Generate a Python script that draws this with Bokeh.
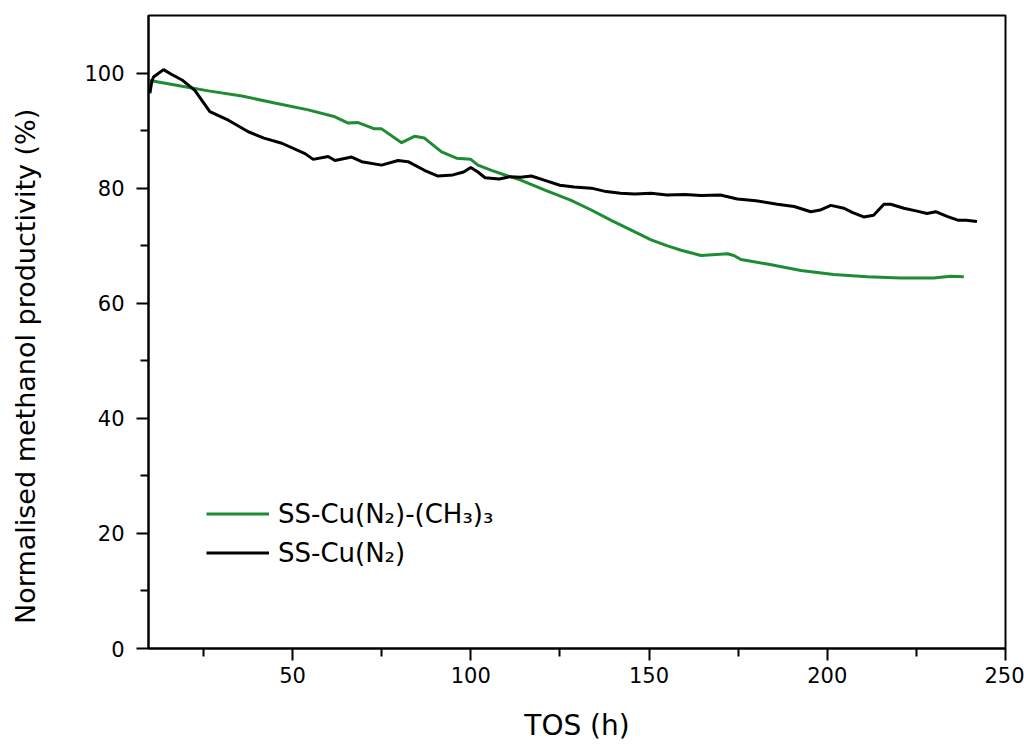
from bokeh.plotting import figure
from bokeh.models import FixedTicker, Legend, LegendItem, Range1d
from bokeh.embed import file_html
from bokeh.resources import INLINE

# SS-Cu(N2)
tos_black = [10, 10.5, 11, 13.8, 16, 19, 22.6, 26.8, 32, 37.6, 42, 47, 53.5, 55.8, 60, 61.9,
             66.6, 69.4, 75, 79.6, 82.4, 87, 90.8, 95, 98, 100, 102, 104, 108, 111, 114, 117,
             121, 125, 129, 133.8, 138, 142, 146, 150.6, 155, 160, 164.6, 170, 174.8, 180,
             186, 190.7, 195.4, 198, 201, 204.7, 207, 210.2, 213, 215.9, 217.8, 221.5, 225.2,
             228, 230.4, 233.6, 236.8, 239, 242]
prod_black = [96.5, 98.5, 99.3, 100.6, 99.8, 98.8, 97.0, 93.3, 91.8, 89.8, 88.7, 87.8, 86.0, 85.0,
              85.5, 84.8, 85.4, 84.6, 84.0, 84.8, 84.6, 83.1, 82.1, 82.3, 82.8, 83.6, 82.8, 81.8,
              81.6, 82.0, 81.9, 82.1, 81.3, 80.5, 80.2, 80.0, 79.4, 79.1, 79.0, 79.1, 78.8, 78.9,
              78.7, 78.8, 78.1, 77.8, 77.2, 76.8, 75.9, 76.2, 77.0, 76.5, 75.8, 75.0, 75.3, 77.2,
              77.2, 76.5, 76.0, 75.6, 75.9, 75.1, 74.4, 74.4, 74.2]

# SS-Cu(N2)-(CH3)3
tos_green = [10, 19, 26.4, 35.8, 45, 54.4, 61.9, 65.6, 68.4, 73, 75, 80.6, 84.2, 87, 91.8, 96,
             100, 102, 105.8, 110, 114, 121, 128, 133.8, 139.4, 145, 150.6, 155, 159, 164.6,
             172, 173.8, 175.8, 183.2, 192.6, 201.8, 211.2, 220.6, 229.9, 234.6, 238.3]
prod_green = [98.7, 97.7, 96.9, 96.0, 94.8, 93.6, 92.4, 91.3, 91.4, 90.3, 90.3, 87.9, 89.0, 88.7,
              86.3, 85.2, 85.0, 84.0, 83.1, 82.2, 81.4, 79.6, 77.9, 76.2, 74.4, 72.7, 71.0, 70.0,
              69.2, 68.3, 68.6, 68.3, 67.6, 66.8, 65.7, 65.0, 64.6, 64.4, 64.4, 64.7, 64.6]

x_major = [50, 100, 150, 200, 250]
x_minor = [25, 75, 125, 175, 225]
y_major = [0, 20, 40, 60, 80, 100]
y_minor = [10, 30, 50, 70, 90]

x_title = "TOS (h)"
y_title = "Normalised methanol productivity (%)"

FONT = "DejaVu Sans"

p = figure(width=1024, height=744, output_backend="svg", toolbar_location=None,
           x_range=Range1d(9.6, 250), y_range=Range1d(0, 110),
           min_border_left=148, min_border_right=19, min_border_top=15, min_border_bottom=96)
p.grid.visible = False
p.outline_line_color = "black"
p.outline_line_width = 2
p.background_fill_color = "white"
p.border_fill_color = "white"

gr = p.line(tos_green, prod_green, line_color="#1E8C32", line_width=3)
bl = p.line(tos_black, prod_black, line_color="black", line_width=3)

for ax in (p.xaxis[0], p.yaxis[0]):
    ax.axis_line_width = 2
    ax.major_tick_line_width = 2
    ax.minor_tick_line_width = 2
    ax.major_tick_in = 0
    ax.minor_tick_in = 0
    ax.major_tick_out = 12
    ax.minor_tick_out = 8
    ax.major_label_text_font = FONT
    ax.major_label_text_font_size = "21px"
    ax.major_label_text_color = "black"
    ax.axis_label_text_font = FONT
    ax.axis_label_text_font_style = "normal"
    ax.axis_label_text_color = "black"

p.xaxis[0].ticker = FixedTicker(ticks=x_major, minor_ticks=x_minor)
p.yaxis[0].ticker = FixedTicker(ticks=y_major, minor_ticks=y_minor)
p.xaxis[0].major_label_standoff = 6
p.yaxis[0].major_label_standoff = 12
p.xaxis[0].axis_label = x_title
p.xaxis[0].axis_label_text_font_size = "28px"
p.xaxis[0].axis_label_standoff = 23

# trailing no-break spaces nudge the centred title slightly downward, as in the original
p.yaxis[0].axis_label = y_title + "\u00a0" * 8
p.yaxis[0].axis_label_text_font_size = "27px"
p.yaxis[0].axis_label_standoff = 40

legend = Legend(items=[LegendItem(label="SS-Cu(N\u2082)-(CH\u2083)\u2083", renderers=[gr]),
                       LegendItem(label="SS-Cu(N\u2082)", renderers=[bl])],
                location=(58, 76), glyph_width=63, glyph_height=39, label_height=39,
                spacing=0, padding=0, margin=0, label_standoff=9,
                label_text_font=FONT, label_text_font_size="26px", label_text_color="black",
                border_line_color=None, background_fill_alpha=0)
p.add_layout(legend)

open("out.html", "w").write(file_html(p, INLINE))
